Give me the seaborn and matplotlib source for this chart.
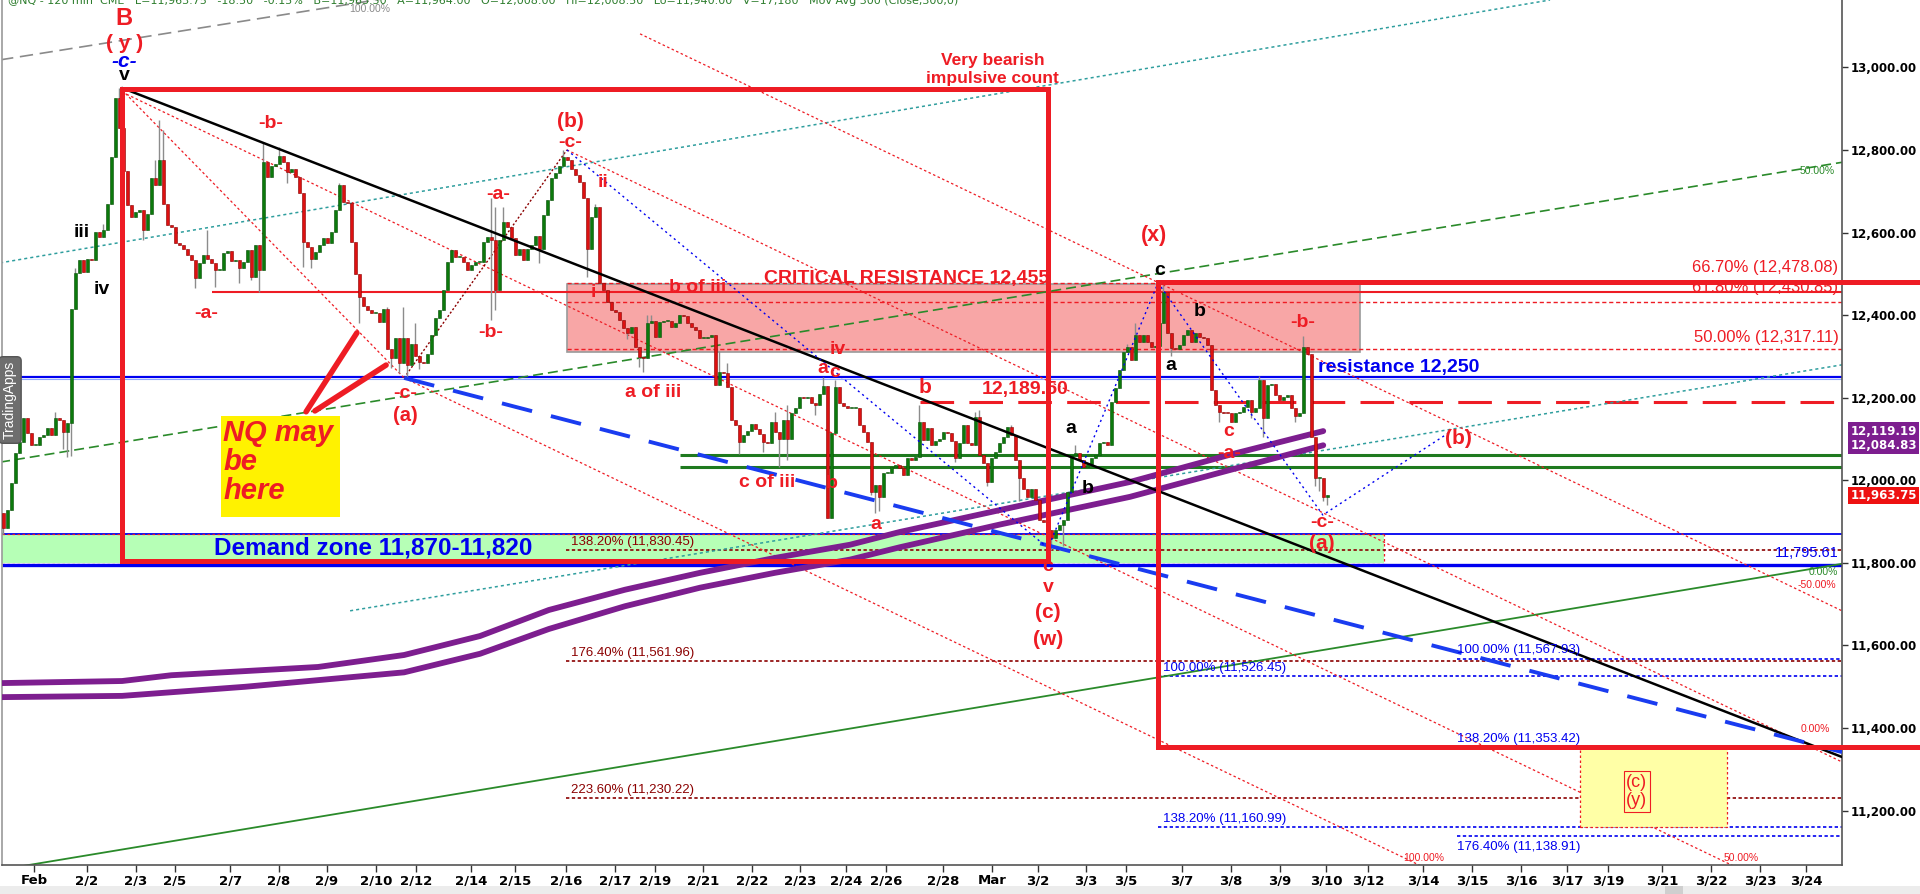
import matplotlib
matplotlib.use("Agg")
import numpy as np
import matplotlib.pyplot as plt
import seaborn as sns
from matplotlib.patches import Rectangle
from matplotlib.transforms import blended_transform_factory

# ---------------- data ----------------
first_open = 11920
closes = [
    11884, 11928, 11993, 12065, 12093, 12150, 12114, 12086, 12086, 12106,
    12110, 12126, 12110, 12150, 12145, 12118, 12138, 12416, 12501, 12533,
    12505, 12537, 12533, 12602, 12590, 12606, 12670, 12783, 12925, 12852,
    12750, 12666, 12638, 12650, 12655, 12606, 12646, 12731, 12715, 12775,
    12670, 12618, 12614, 12575, 12570, 12560, 12545, 12533, 12489, 12525,
    12545, 12535, 12525, 12510, 12510, 12550, 12556,
    12530, 12533, 12513, 12529, 12557, 12493, 12570, 12509, 12771, 12735,
    12760, 12767, 12785, 12771, 12747, 12753, 12735, 12695, 12578, 12566,
    12537, 12553, 12569, 12586, 12575, 12602, 12654, 12715, 12675, 12672,
    12578, 12500, 12445, 12422, 12412, 12404, 12406, 12384, 12416, 12319,
    12295, 12344, 12283, 12344, 12280, 12330, 12300, 12287, 12283, 12307,
    12352, 12392, 12412, 12460, 12529, 12557,
    12541, 12541, 12529, 12509, 12521, 12529, 12529, 12578, 12590, 12582,
    12461, 12582, 12626, 12614, 12586, 12545, 12561, 12533, 12561, 12570,
    12591, 12561, 12642, 12678, 12731, 12745, 12761, 12783, 12775, 12753,
    12739, 12723, 12683, 12561, 12638, 12662, 12477, 12461, 12432, 12412,
    12408, 12388, 12368, 12356, 12370, 12323, 12299, 12295, 12380, 12386,
    12348, 12383, 12386, 12386, 12372, 12380, 12400,
    12398, 12380, 12372, 12364, 12344, 12344, 12346, 12352, 12231, 12263,
    12259, 12227, 12146, 12134, 12093, 12109, 12120, 12137, 12125, 12113,
    12093, 12091, 12142, 12118, 12101, 12146, 12099, 12162, 12174, 12202,
    12200, 12202, 12186, 12182, 12210, 12228, 11909, 12114, 12227, 12186,
    12180, 12174, 12174, 12174, 12134, 12118, 12093, 11972, 11989, 11960,
    12017, 12017, 12033, 12036, 12029, 12013, 12053,
    12049, 12057, 12142, 12097, 12126, 12085, 12094, 12099, 12118, 12114,
    12095, 12053, 12090, 12134, 12090, 12086, 12154, 12061, 12041, 11997,
    12053, 12069, 12090, 12105, 12130, 12110, 12049, 12005, 11980, 11960,
    11980, 11952, 11904, 11900, 11880, 11860, 11880, 11892, 11904, 11972,
    12061, 12065, 12050, 12033, 12040, 12053, 12061, 12090, 12092, 12085,
    12190, 12223, 12267, 12311, 12323, 12291,
    12352, 12336, 12352, 12336, 12323, 12325, 12380, 12455, 12356, 12320,
    12318, 12327, 12352, 12364, 12336, 12356, 12348, 12344, 12328, 12219,
    12182, 12166, 12164, 12162, 12142, 12162, 12166, 12178, 12195, 12166,
    12174, 12243, 12150, 12231, 12233, 12206, 12195, 12202, 12206, 12174,
    12155, 12162, 12323, 12307, 12105, 12005, 12005, 11960, 11963.75,
]
high_wicks = {13: 12166, 18: 12513, 25: 12620, 29: 12950, 38: 12775, 39: 12872, 40: 12848,
              51: 12605, 65: 12820, 69: 12808, 84: 12719, 96: 12420, 100: 12420, 103: 12380,
              122: 12683, 123: 12662, 125: 12662, 140: 12799, 148: 12670, 161: 12400, 162: 12400,
              179: 12313, 181: 12283, 193: 12166, 196: 12182, 205: 12250, 208: 12243,
              229: 12182, 243: 12166, 244: 12170, 252: 12135, 268: 12085, 281: 12330,
              283: 12380, 289: 12400, 290: 12472, 314: 12252, 325: 12350}
low_wicks = {0: 11871, 15: 12077, 16: 12057, 17: 12060, 35: 12582, 48: 12465, 53: 12469,
             59: 12477, 62: 12485, 64: 12457, 71: 12719, 75: 12517, 77: 12513, 89: 12380,
             97: 12271, 99: 12260, 101: 12250, 104: 12269, 122: 12388, 123: 12413, 134: 12525,
             146: 12493, 156: 12342, 159: 12275, 160: 12263, 184: 12064, 190: 12069, 194: 12032,
             196: 12049, 203: 12158, 217: 11965, 218: 11920, 219: 11925, 238: 12045, 246: 11985,
             254: 11950, 262: 11831, 265: 11840, 292: 12300, 304: 12142, 312: 12150, 315: 12105,
             323: 12142, 328: 11985, 329: 11975, 330: 11950, 331: 11940}

# moving averages (purple bands)
ma_fast_idx = [-0.33, 29.7, 42, 60.4, 78.7, 100.2, 119.2, 136.4, 155.4, 174.2, 192.9, 211.7, 224.2, 249.2, 281.7, 306.7, 330]
ma_fast = [11509, 11514, 11528, 11538, 11548, 11577, 11623, 11686, 11735, 11776, 11812, 11844, 11875, 11928, 11996, 12062, 12119.19]
ma_slow_idx = [-0.33, 29.7, 60.4, 100.2, 119.2, 136.4, 155.4, 174.2, 192.9, 211.7, 224.2, 249.2, 281.7, 306.7, 330]
ma_slow = [11475, 11478, 11500, 11535, 11580, 11640, 11695, 11740, 11776, 11808, 11838, 11893, 11960, 12025, 12084.83]

date_labels = ['Feb', '2/2', '2/3', '2/5', '2/7', '2/8', '2/9', '2/10', '2/12', '2/14', '2/15', '2/16',
               '2/17', '2/19', '2/21', '2/22', '2/23', '2/24', '2/26', '2/28', 'Mar', '3/2', '3/3', '3/5',
               '3/7', '3/8', '3/9', '3/10', '3/12', '3/14', '3/15', '3/16', '3/17', '3/19', '3/21', '3/22',
               '3/23', '3/24']
date_pos = [7.7, 20.9, 33.2, 42.9, 56.7, 68.9, 80.9, 93.2, 103.2, 116.9, 127.9, 140.7, 152.9, 162.9,
            174.9, 187.2, 199.2, 210.7, 220.7, 234.9, 247.2, 258.7, 270.7, 280.7, 294.7, 306.9, 319.2,
            330.7, 341.2, 354.9, 367.2, 379.4, 390.9, 401.2, 414.7, 426.9, 439.2, 450.7]
price_ticks = [11200, 11400, 11600, 11800, 12000, 12200, 12400, 12600, 12800, 13000]

# key levels
resistance = 12250
critical_res = 12455
level_b = 12189.50
green_levels = [12061, 12032]
demand_top, demand_low, demand_bottom = 11870, 11795.61, 11800
fib_right = [(12478.08, '66.70% (12,478.08)'), (12430.85, '61.80% (12,430.85)'), (12317.11, '50.00% (12,317.11)')]
fib_ext = [(11830.45, '138.20% (11,830.45)'), (11561.96, '176.40% (11,561.96)'), (11230.22, '223.60% (11,230.22)')]
fib_blue1 = [(11526.45, '100.00% (11,526.45)'), (11160.99, '138.20% (11,160.99)')]
fib_blue2 = [(11567.93, '100.00% (11,567.93)'), (11353.42, '138.20% (11,353.42)'), (11138.91, '176.40% (11,138.91)')]
last_price = 11963.75

# ---------------- style ----------------
sns.set_theme(style="white")
plt.rcParams['font.family'] = ['Liberation Sans', 'DejaVu Sans']

RED = '#ee1c24'
BLUE = '#0000f0'
DRED = '#8b0000'
GRN = '#2a8a2a'
TEAL = '#2f9e9e'
PURPLE = '#7d1e8f'

fig = plt.figure(figsize=(19.2, 8.94), dpi=100)
ax = fig.add_axes([2 / 1920, 29 / 894, 1840 / 1920, 865 / 894])
XL, XR = -0.33, 459.7
ax.set_xlim(XL, XR)
ax.set_ylim(11068.5, 13163)

# ---------------- zones ----------------
ax.add_patch(Rectangle((XL, demand_bottom), 345.2 - XL, demand_top - demand_bottom,
                       fc='#b6ffb6', ec='none', zorder=1))
ax.plot([XL, 345.2, 345.2], [demand_bottom - 2, demand_bottom - 2, demand_top], color=RED,
        lw=0.9, dashes=(2, 2), zorder=2)
ax.add_patch(Rectangle((140.9, 12311), 198.3, 164, fc='#f8a6a6', ec='#9a9a9a', lw=1.2, zorder=1))

# ---------------- horizontal levels ----------------
ax.hlines(resistance, XL, XR, color=BLUE, lw=1.6, zorder=2)
ax.hlines(resistance - 4, XL, XR, color='#8fa8ff', lw=0.8, zorder=2)
ax.hlines(demand_top, XL, XR, color=BLUE, lw=1.3, zorder=2)
ax.plot([XL, 345.2], [demand_top, demand_top], color=RED, lw=0.9, dashes=(2, 2), zorder=2)
ax.hlines(demand_low, XL, XR, color=BLUE, lw=2.4, zorder=2)
ax.hlines(critical_res, 52.2, XR, color=RED, lw=1.5, zorder=2)
for g in green_levels:
    ax.hlines(g, 169.2, XR, color='#1f7a1f', lw=2.2, zorder=2)
ax.plot([229.2, XR], [level_b, level_b], color=RED, lw=2.2, dashes=(11, 5), zorder=2)
for v, t in fib_right:
    ax.plot([140.9, XR], [v, v], color=RED, lw=1.0, dashes=(3, 2), zorder=2)
for v, t in fib_ext:
    ax.plot([140.7, XR], [v, v], color=DRED, lw=1.2, dashes=(2, 1.5), zorder=2)
for v, t in fib_blue1:
    ax.plot([288.7, XR], [v, v], color=BLUE, lw=1.2, dashes=(2, 1.5), zorder=2)
for v, t in fib_blue2:
    ax.plot([363.4, XR], [v, v], color=BLUE, lw=1.2, dashes=(2, 1.5), zorder=2)

# ---------------- trend lines ----------------
ax.plot([-0.8, 130], [13018, 13220], color='#8a8a8a', lw=1.2, dashes=(8, 4), zorder=2)
ax.plot([-0.8, 386.7], [12526.5, 13163], color=TEAL, lw=1.1, dashes=(2, 2), zorder=2)
ax.plot([86.7, XR], [11684, 12279.6], color=TEAL, lw=1.1, dashes=(2, 2), zorder=2)
ax.plot([-0.8, XR], [12044, 12770], color=GRN, lw=1.2, dashes=(6, 3), zorder=2)
ax.plot([5.2, XR], [11066.6, 11797.8], color=GRN, lw=1.3, zorder=2)
# red Fibonacci channel
for xs, ys in [([159.2, XR], [13081, 11684]), ([140.9, XR], [12800, 11318]),
               ([29.7, XR], [12940, 10940]), ([100.2, XR], [12248, 10577]),
               ([29.7, 100.2], [12945, 12248])]:
    ax.plot(xs, ys, color=RED, lw=0.9, dashes=(2, 2), zorder=2)
ax.plot([100.2, 140.9], [12248, 12800], color=DRED, lw=1.0, dashes=(1.5, 1.5), zorder=2)

# ---------------- moving averages ----------------
sns.lineplot(x=ma_slow_idx, y=ma_slow, ax=ax, color=PURPLE, lw=4.2, sort=False, estimator=None, zorder=3)
sns.lineplot(x=ma_fast_idx, y=ma_fast, ax=ax, color=PURPLE, lw=4.2, sort=False, estimator=None, zorder=3)

# ---------------- candles ----------------
c = np.array(closes, dtype=float)
n = len(c)
xi = np.arange(n)
o = np.r_[first_open, c[:-1]]
hi = np.maximum(o, c)
lo = np.minimum(o, c)
for k, v in high_wicks.items():
    hi[k] = max(hi[k], v)
for k, v in low_wicks.items():
    lo[k] = min(lo[k], v)
up = c >= o
ax.vlines(xi, lo, hi, color='#8c8c8c', lw=1.0, zorder=4)
body = np.maximum(np.abs(c - o), 2.5)
base = np.minimum(o, c)
ax.bar(xi[up], body[up], bottom=base[up], width=0.75, color='#0c7a0c', edgecolor='#075007', lw=0.4, zorder=5)
ax.bar(xi[~up], body[~up], bottom=base[~up], width=0.75, color='#dd1111', edgecolor='#8a0000', lw=0.4, zorder=5)

# trendlines above candles
ax.plot([29.7, XR], [12950, 11330], color='black', lw=1.8, zorder=6)
ax.plot([100.2, XR], [12248, 11342], color='#1a3cf0', lw=2.8, dashes=(8, 5), zorder=6)
ax.plot([140.9, 261.2, 288.7, 329.9, 361.7], [12800, 11836, 12478, 11916, 12117],
        color=BLUE, lw=1.0, dashes=(1.5, 2.5), zorder=6)

# ---------------- red boxes ----------------
ax.add_patch(Rectangle((29.7, 11805), 231.5, 1142, fill=False, ec=RED, lw=3.6, zorder=7))
ax.plot([479.5, 288.7, 288.7, 479.5], [12480, 12480, 11354, 11354], color=RED, lw=3.6,
        zorder=7, clip_on=False, solid_joinstyle='miter')

# yellow boxes
ax.add_patch(Rectangle((54.4, 11911), 29.8, 245, fc='#fff200', ec='none', zorder=6))
ax.plot([75.7, 88.4], [12166, 12357], color=RED, lw=4, zorder=6, solid_capstyle='round')
ax.plot([77.9, 95.7], [12168, 12279], color=RED, lw=4, zorder=6, solid_capstyle='round')
ax.text(55.0, 12148, "NQ may\nbe\nhere", color=RED, fontsize=21, fontweight='bold', style='italic',
        ha='left', va='top', linespacing=1.05, zorder=8)
ax.add_patch(Rectangle((394.2, 11161), 36.7, 192, fc='#ffffa6', ec=RED, lw=0.9, ls=(0, (2, 2)), zorder=6))
ax.text(408.4, 11247, "(c)\n(y)", color=RED, fontsize=13, ha='center', va='center', linespacing=1.1,
        zorder=8, bbox=dict(boxstyle='square,pad=0.15', fc='none', ec=RED, lw=0.8))

# ---------------- text ----------------
def lab(t, x, y, col=RED, size=13, **kw):
    ax.text(x, y, t, color=col, fontsize=size, fontweight='bold', ha='center', va='center', zorder=8, **kw)

wave_labels = [
    ("B", 30.2, 13119, RED, 17), ("( y )", 30.2, 13057, RED, 15), ("v", 30.2, 12979, 'black', 14),
    ("iii", 19.7, 12601, 'black', 14), ("iv", 24.7, 12461, 'black', 14),
    ("-a-", 50.7, 12405, RED, 14), ("-b-", 66.9, 12863, RED, 14), ("-c-", 100.4, 12209, RED, 14),
    ("(a)", 100.4, 12156, RED, 14.5), ("-a-", 123.7, 12691, RED, 14), ("-b-", 121.9, 12359, RED, 14),
    ("(b)", 141.9, 12870, RED, 15), ("-c-", 141.7, 12817, RED, 14), ("ii", 149.9, 12722, RED, 14),
    ("i", 147.4, 12454, RED, 14), ("b of iii", 173.7, 12466, RED, 14), ("a of iii", 162.4, 12212, RED, 14),
    ("iv", 208.7, 12316, RED, 14), ("a", 204.9, 12270, RED, 14), ("c", 207.9, 12260, RED, 14),
    ("c of iii", 190.9, 11994, RED, 14), ("b", 207.2, 11992, RED, 14), ("a", 218.2, 11893, RED, 14),
    ("b", 230.4, 12224, RED, 15), ("a", 267.0, 12125, 'black', 14), ("b", 271.2, 11980, 'black', 14),
    ("c", 261.2, 11791, RED, 14), ("v", 261.2, 11740, RED, 14), ("(c)", 261.2, 11680, RED, 15),
    ("(w)", 261.2, 11614, RED, 15), ("(x)", 287.7, 12592, RED, 15.5), ("c", 289.2, 12509, 'black', 14),
    ("b", 299.2, 12408, 'black', 14), ("a", 291.9, 12277, 'black', 14), ("c", 306.4, 12117, RED, 14),
    ("-a-", 306.4, 12066, RED, 14), ("-b-", 324.9, 12381, RED, 14), ("-c-", 329.7, 11897, RED, 14),
    ("(a)", 329.7, 11846, RED, 15), ("(b)", 363.9, 12102, RED, 15),
]
for t, x, y, col, s in wave_labels:
    lab(t, x, y, col, s)
lab("-c-", 30.2, 13015, BLUE, 15, style='italic')
lab("12,189.50", 255.4, 12219, RED, 14)
lab("CRITICAL RESISTANCE 12,455", 225.9, 12488, RED, 14)
lab("Very bearish", 247.4, 13016, RED, 12.5)
lab("impulsive count", 247.4, 12974, RED, 12.5)
lab("resistance 12,250", 348.9, 12274, BLUE, 14)
lab("Demand zone 11,870-11,820", 92.4, 11836, BLUE, 17.5)

for v, t in fib_right:
    ax.text(458.8, v + (36 if v > 12400 else 28), t, color=RED, fontsize=12, ha='right', va='center', zorder=8)
for v, t in fib_ext:
    ax.text(141.9, v + 20, t, color=DRED, fontsize=9.5, ha='left', va='center', zorder=8)
for v, t in fib_blue1:
    ax.text(289.9, v + 18, t, color=BLUE, fontsize=9.5, ha='left', va='center', zorder=8)
for v, t in fib_blue2:
    off = 20 if v > 11200 else -27
    ax.text(363.4, v + off, t, color=BLUE, fontsize=9.5, ha='left', va='center', zorder=8)
ax.text(458.8, 11824, "11,795.61", color=BLUE, fontsize=10.5, ha='right', va='center', zorder=8)

small = [("100.00%", 91.7, 13141, '#8a8a8a'), ("50.00%", 453.4, 12749, GRN), ("0.00%", 455.0, 11777, GRN),
         ("-50.00%", 453.4, 11747, RED), ("0.00%", 453.0, 11398, RED), ("100.00%", 355.2, 11085, RED),
         ("50.00%", 434.4, 11085, RED)]
for t, x, y, col in small:
    ax.text(x, y, t, color=col, fontsize=7.5, ha='center', va='center', zorder=8)

# ---------------- axes ----------------
ax.yaxis.tick_right()
ax.set_yticks(price_ticks)
ax.set_yticklabels([f"{p:,.2f}" for p in price_ticks], fontsize=8.5, fontweight='bold',
                   family='DejaVu Sans', color='black')
ax.set_xticks(date_pos)
ax.set_xticklabels(date_labels, fontsize=9.5, fontweight='bold', family='DejaVu Sans', color='black')
ax.tick_params(axis='y', length=4, width=1, color='#333333', pad=2, right=True, left=False)
ax.tick_params(axis='x', length=5, width=1, color='#333333', pad=1.5, bottom=True)
ax.spines['top'].set_visible(False)
ax.spines['left'].set_color('#9a9a9a')
ax.spines['right'].set_color('#555555')
ax.spines['bottom'].set_color('#555555')
for s in ['left', 'right', 'bottom']:
    ax.spines[s].set_linewidth(1.2)
ax.grid(False)
ax.set_xlabel('')
ax.set_ylabel('')

trans = blended_transform_factory(ax.transAxes, ax.transData)
for v, col in [(ma_fast[-1], PURPLE), (ma_slow[-1], PURPLE), (last_price, '#ee1111')]:
    ax.text(1.0045, v, f"{v:,.2f}", transform=trans, ha='left', va='center', color='white',
            fontsize=8.5, fontweight='bold', family='DejaVu Sans', zorder=10, clip_on=False,
            bbox=dict(boxstyle='square,pad=0.18', fc=col, ec='none'))

# watermark & header
fig.text(10 / 1920, (894 - 400) / 894, "TradingApps", rotation=90, color='white',
         fontsize=10, ha='center', va='center',
         bbox=dict(boxstyle='round,pad=0.3', fc='#6e6e6e', ec='#555555'))
fig.text(0.004, 0.9985, "@NQ - 120 min  CME   L=11,963.75   -18.50   -0.15%   B=11,963.50   A=11,964.00   "
         "O=12,008.00   Hi=12,008.50   Lo=11,940.00   V=17,180   Mov Avg 300 (Close,300,0)",
         color='#2d7d2d', fontsize=8, ha='left', va='center', family='DejaVu Sans')
fig.patches.append(Rectangle((0, 0), 1, 8 / 894, transform=fig.transFigure, fc='#ececec', ec='none'))
fig.patches.append(Rectangle((1665 / 1920, 0), 18 / 1920, 8 / 894, transform=fig.transFigure,
                             fc='#cfcfcf', ec='none'))

fig.savefig("out.png", dpi=100, facecolor='white')
